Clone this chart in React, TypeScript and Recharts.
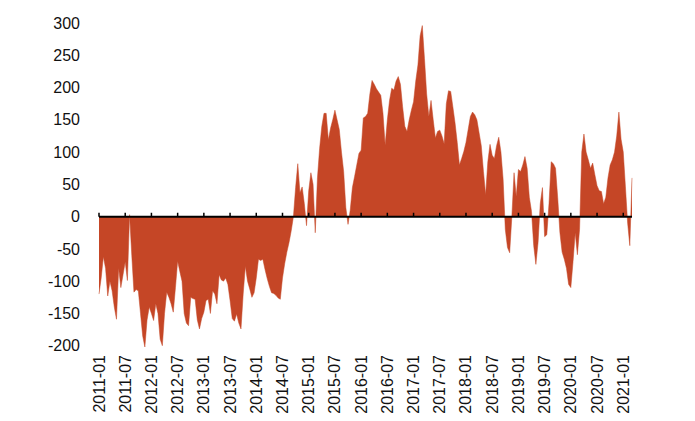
import { AreaChart, Area, XAxis, YAxis, ReferenceLine } from "recharts"

// semi-monthly readings, month index = year offset * 12 + i / 2
const vals2011 = [-120, -95, -62, -80, -123, -100, -115, -140, -159, -80, -110, -90, -70, -99, 3, -60, -117, -113, -115, -150, -185, -202, -160, -140]
const vals2012 = [-150, -161, -135, -150, -190, -200, -150, -117, -125, -135, -148, -110, -69, -85, -100, -150, -165, -169, -125, -127, -128, -160, -174, -158]
const vals2013 = [-148, -130, -128, -150, -115, -120, -135, -90, -98, -100, -95, -105, -130, -158, -162, -151, -165, -174, -120, -77, -100, -112, -125, -118]
const vals2014 = [-95, -66, -68, -66, -82, -96, -108, -118, -119, -122, -126, -128, -95, -73, -55, -40, -22, 0, 45, 82, 37, 46, 20, -14]
const vals2015 = [40, 68, 50, -25, 60, 106, 140, 160, 160, 119, 137, 150, 165, 150, 135, 100, 70, 14, -12, 10, 45, 62, 80, 98]
const vals2016 = [103, 153, 155, 160, 190, 211, 205, 198, 193, 188, 160, 111, 150, 180, 199, 196, 210, 217, 205, 170, 140, 132, 150, 165]
const vals2017 = [178, 210, 235, 280, 296, 245, 190, 155, 180, 150, 122, 132, 134, 125, 113, 175, 195, 194, 170, 145, 115, 80, 90, 101]
const vals2018 = [115, 135, 155, 162, 158, 150, 130, 110, 70, 34, 85, 112, 95, 90, 110, 123, 100, 58, -20, -48, -56, 0, 68, 31]
const vals2019 = [73, 70, 80, 93, 75, 30, 8, -45, -74, -40, 20, 45, -31, -28, 20, 85, 82, 75, 29, -25, -55, -66, -80, -105]
const vals2020 = [-110, -70, -25, -59, -20, 100, 128, 100, 88, 75, 83, 65, 48, 40, 39, 20, 30, 60, 80, 88, 100, 125, 162, 120]
const vals2021 = [100, 46, -10, -45, 60]

const yearSeries = [vals2011, vals2012, vals2013, vals2014, vals2015, vals2016, vals2017, vals2018, vals2019, vals2020, vals2021]

const tickLabels = [
  "2011-01", "2011-07", "2012-01", "2012-07", "2013-01", "2013-07", "2014-01", "2014-07",
  "2015-01", "2015-07", "2016-01", "2016-07", "2017-01", "2017-07", "2018-01", "2018-07",
  "2019-01", "2019-07", "2020-01", "2020-07", "2021-01",
]

const yTicks = [-200, -150, -100, -50, 0, 50, 100, 150, 200, 250, 300]

const toMonth = (label: string) => {
  const [y, mo] = label.split("-").map(Number)
  return (y - 2011) * 12 + (mo - 1)
}

const data = yearSeries.flatMap((arr, yi) => arr.map((v, i) => ({ m: yi * 12 + i / 2, v })))
const xTicks = tickLabels.map(toMonth)
const labelFor = (m: number) => tickLabels[xTicks.indexOf(m)] ?? ""

const FONT = "'Liberation Sans', Arial, sans-serif"
const FILL = "#C54626"

const XTick = ({ x, y, payload }: any) => (
  <text
    x={x}
    y={y}
    transform={`rotate(-90, ${x}, ${y})`}
    textAnchor="end"
    dominantBaseline="central"
    fontSize={16}
    fontFamily={FONT}
    fill="#111"
  >
    {labelFor(payload.value)}
  </text>
)

export default function App() {
  return (
    <div style={{ position: "relative", width: 695, height: 421, margin: -8, background: "#fff" }}>
      <div style={{ position: "absolute", top: 4, left: 0, width: 695, height: 2, background: "#000" }} />
      <AreaChart width={695} height={421} data={data} margin={{ top: 23, right: 63, bottom: 0, left: 0 }}>
        <XAxis
          dataKey="m"
          type="number"
          domain={[0, 122]}
          ticks={xTicks}
          interval={0}
          axisLine={false}
          tickLine={false}
          height={74}
          tick={<XTick />}
        />
        <YAxis
          type="number"
          domain={[-200, 300]}
          ticks={yTicks}
          interval={0}
          axisLine={false}
          tickLine={false}
          tickMargin={13}
          width={99}
          tick={{ fontSize: 16, fontFamily: FONT, fill: "#111" }}
        />
        <Area
          type="linear"
          dataKey="v"
          fill={FILL}
          fillOpacity={1}
          stroke={FILL}
          strokeWidth={0.5}
          isAnimationActive={false}
        />
        <ReferenceLine y={0} stroke="#000" strokeWidth={2} />
        {xTicks.map((t) => (
          <ReferenceLine
            key={t}
            segment={[{ x: t, y: 0 }, { x: t, y: 6 }]}
            stroke="#000"
            strokeWidth={1.5}
          />
        ))}
      </AreaChart>
    </div>
  )
}
